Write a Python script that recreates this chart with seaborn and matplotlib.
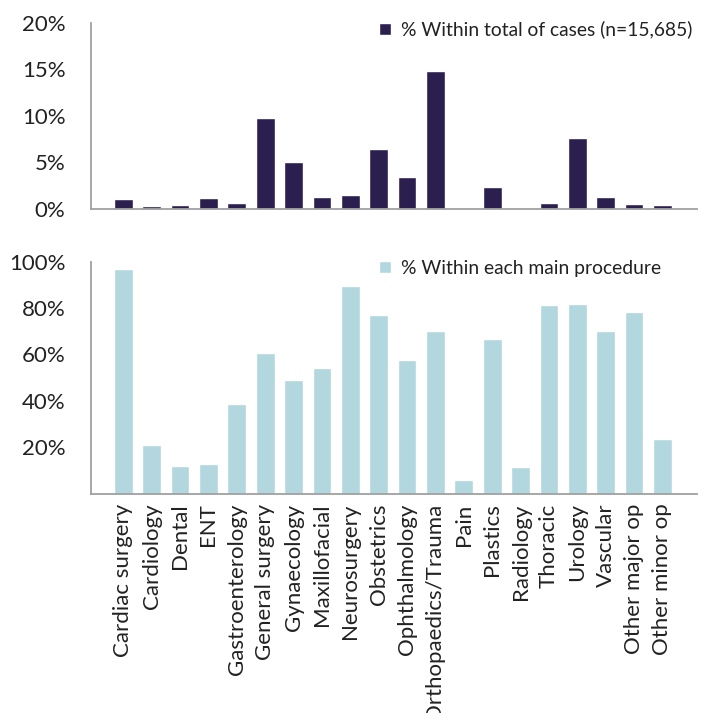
import matplotlib.pyplot as plt
import seaborn as sns
import pandas as pd

sns.set_style("white")
plt.rcParams['font.family'] = ['Lato', 'DejaVu Sans']

procedures = ['Cardiac surgery', 'Cardiology', 'Dental', 'ENT', 'Gastroenterology',
              'General surgery', 'Gynaecology', 'Maxillofacial', 'Neurosurgery',
              'Obstetrics', 'Ophthalmology', 'Orthopaedics/Trauma', 'Pain', 'Plastics',
              'Radiology', 'Thoracic', 'Urology', 'Vascular', 'Other major op',
              'Other minor op']
pct_total = [1.0, 0.25, 0.4, 1.1, 0.6, 9.8, 5.0, 1.3, 1.5, 6.4,
             3.4, 14.8, 0.02, 2.3, 0.02, 0.65, 7.6, 1.3, 0.55, 0.45]
pct_within = [96.9, 20.9, 11.8, 12.7, 38.6, 60.6, 48.9, 54.1, 89.5, 77.0,
              57.6, 70.1, 5.8, 66.6, 11.4, 81.3, 81.7, 70.1, 78.3, 23.5]

df = pd.DataFrame({'Procedure': procedures, 'Total': pct_total, 'Within': pct_within})

dark = '#2b1f50'
light = '#b3d7df'
txt = '#222222'
spine_col = '#a0a0a0'

fig = plt.figure(figsize=(7.13, 7.13), dpi=100)
ax1 = fig.add_axes([0.128, 0.7073, 0.8496, 0.2609])
ax2 = fig.add_axes([0.128, 0.3076, 0.8496, 0.3254])

sns.barplot(data=df, x='Procedure', y='Total', color=dark, width=0.66,
            saturation=1, ax=ax1, label='% Within total of cases (n=15,685)')
sns.barplot(data=df, x='Procedure', y='Within', color=light, width=0.66,
            saturation=1, ax=ax2, label='% Within each main procedure')

ax1.set_ylim(0, 20)
ax1.set_yticks([0, 5, 10, 15, 20])
ax1.set_yticklabels([f'{v}%' for v in [0, 5, 10, 15, 20]])
ax2.set_ylim(0, 100)
ax2.set_yticks([20, 40, 60, 80, 100])
ax2.set_yticklabels([f'{v}%' for v in [20, 40, 60, 80, 100]])

for ax, ly in ((ax1, 0.963), (ax2, 0.97)):
    ax.set_xlim(-1.13, 20.22)
    ax.set_xlabel('')
    ax.set_ylabel('')
    sns.despine(ax=ax)
    for s in ('left', 'bottom'):
        ax.spines[s].set_color(spine_col)
        ax.spines[s].set_linewidth(1.3)
    ax.tick_params(axis='y', length=0, labelsize=16, labelcolor=txt, pad=18.5)
    ax.tick_params(axis='x', length=0)
    leg = ax.legend(loc='center left', bbox_to_anchor=(0.475, ly), frameon=False,
                    fontsize=13.9, handlelength=0.6, handleheight=0.6,
                    handletextpad=0.53, borderaxespad=0.0, borderpad=0.0)
    for t in leg.get_texts():
        t.set_color(txt)

ax1.set_xticklabels([])
ax2.set_xticks(range(len(procedures)))
ax2.set_xticklabels(procedures, rotation=90, fontsize=16, color=txt)
ax2.tick_params(axis='x', pad=7)

fig.savefig('out.png', dpi=100)
